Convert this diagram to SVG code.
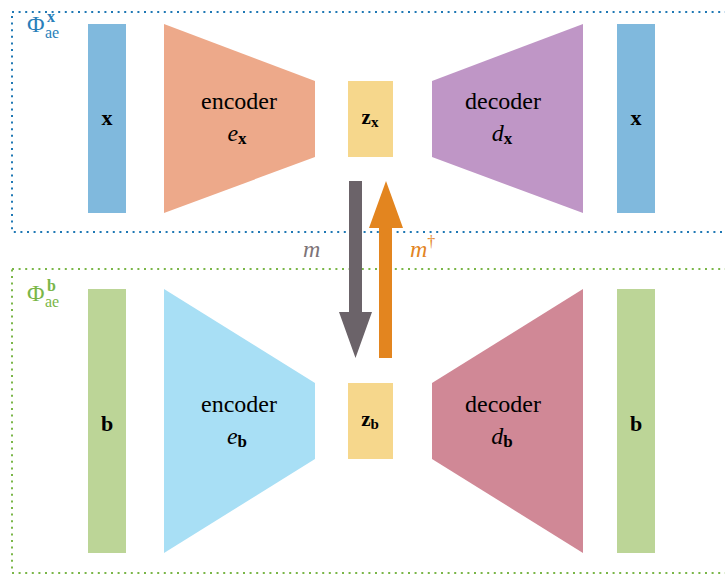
<svg xmlns="http://www.w3.org/2000/svg" width="725" height="577" viewBox="0 0 725 577">
<style>
.lbl{text-anchor:middle}
.frame{fill:none;stroke-width:2;stroke-dasharray:2 4.6}
</style>
<rect width="725" height="577" fill="#fff"/>
<g id="frame-x">
<rect class="frame" x="12" y="12" width="740" height="220" stroke="#1f78b4"/>
<text font-family="serif" x="27" y="32" font-size="24" fill="#2a7fba">Φ</text>
<text font-family="Liberation Serif" x="47" y="22" font-size="16" font-weight="bold" fill="#2a7fba">x</text>
<text font-family="serif" x="45" y="38" font-size="16" fill="#2a7fba">ae</text>
</g>
<g id="frame-b">
<rect class="frame" x="12" y="269" width="740" height="304" stroke="#7ab648"/>
<text font-family="serif" x="27" y="301" font-size="24" fill="#7ab648">Φ</text>
<text font-family="Liberation Serif" x="47" y="291" font-size="16" font-weight="bold" fill="#7ab648">b</text>
<text font-family="serif" x="45" y="307" font-size="16" fill="#7ab648">ae</text>
</g>
<g id="x-in"><rect x="88" y="24" width="38" height="189" fill="#80b9dd"/><text font-family="Liberation Serif" class="lbl" font-weight="bold" x="107" y="125" font-size="22">x</text></g>
<g id="enc-x"><polygon points="164,24 315,81 315,157 164,213" fill="#eda98a"/><text font-family="serif" class="lbl" x="239" y="109" font-size="24">encoder</text><text font-family="serif" class="lbl" font-style="italic" x="237" y="141" font-size="24">e<tspan font-family="Liberation Serif" font-weight="bold" font-style="normal" font-size="17" dy="3">x</tspan></text></g>
<g id="z-x"><rect x="348" y="81" width="45" height="76" fill="#f6d78c"/><text font-family="Liberation Serif" class="lbl" font-weight="bold" x="370" y="124" font-size="21">z<tspan font-size="15" dy="3">x</tspan></text></g>
<g id="dec-x"><polygon points="432,81 583,24 583,213 432,157" fill="#bf96c6"/><text font-family="serif" class="lbl" x="503" y="109" font-size="24">decoder</text><text font-family="serif" class="lbl" font-style="italic" x="502" y="141" font-size="24">d<tspan font-family="Liberation Serif" font-weight="bold" font-style="normal" font-size="17" dy="3">x</tspan></text></g>
<g id="x-out"><rect x="617" y="24" width="38" height="189" fill="#80b9dd"/><text font-family="Liberation Serif" class="lbl" font-weight="bold" x="636" y="125" font-size="22">x</text></g>
<g id="b-in"><rect x="88" y="289" width="38" height="264" fill="#bcd597"/><text font-family="Liberation Serif" class="lbl" font-weight="bold" x="107" y="431" font-size="22">b</text></g>
<g id="enc-b"><polygon points="164,289 315,383 315,459 164,553" fill="#a8dff5"/><text font-family="serif" class="lbl" x="239" y="412" font-size="24">encoder</text><text font-family="serif" class="lbl" font-style="italic" x="237" y="444" font-size="24">e<tspan font-family="Liberation Serif" font-weight="bold" font-style="normal" font-size="17" dy="3">b</tspan></text></g>
<g id="z-b"><rect x="348" y="383" width="45" height="76" fill="#f6d78c"/><text font-family="Liberation Serif" class="lbl" font-weight="bold" x="370" y="426" font-size="21">z<tspan font-size="15" dy="3">b</tspan></text></g>
<g id="dec-b"><polygon points="432,383 583,289 583,553 432,459" fill="#d08896"/><text font-family="serif" class="lbl" x="503" y="412" font-size="24">decoder</text><text font-family="serif" class="lbl" font-style="italic" x="502" y="444" font-size="24">d<tspan font-family="Liberation Serif" font-weight="bold" font-style="normal" font-size="17" dy="3">b</tspan></text></g>
<g id="b-out"><rect x="617" y="289" width="38" height="264" fill="#bcd597"/><text font-family="Liberation Serif" class="lbl" font-weight="bold" x="636" y="431" font-size="22">b</text></g>
<g id="connectors">
<polygon points="349,181 362,181 362,312 372,312 355.5,358 339,312 349,312" fill="#6b6369"/>
<polygon points="379,358 392,358 392,228 403,228 386,181 369,228 379,228" fill="#e3851f"/>
<text font-family="serif" font-style="italic" x="303" y="257" font-size="24" fill="#7d7478">m</text>
<text font-family="serif" font-style="italic" x="410" y="257" font-size="24" fill="#e3851f">m<tspan font-size="16" dy="-10" font-style="normal">†</tspan></text>
</g>
</svg>
